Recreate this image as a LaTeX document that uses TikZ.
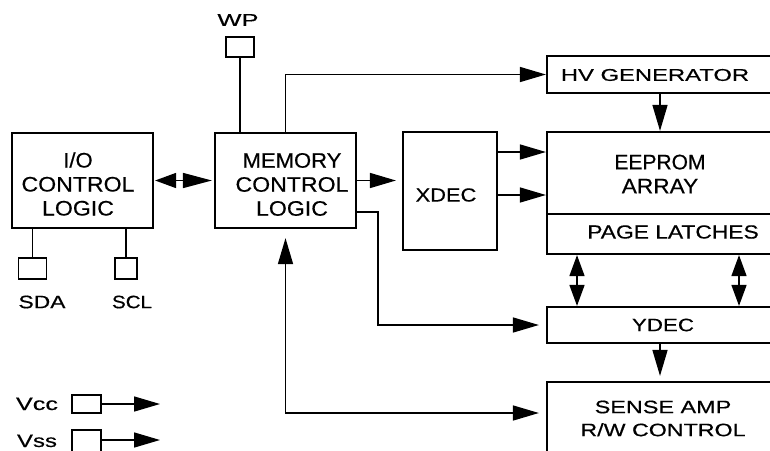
\documentclass[tikz,border=0pt]{standalone}
\usepackage{fontspec}
\setmainfont{Liberation Sans}[FakeBold=0.4]
\usepackage{graphicx}
\usetikzlibrary{arrows.meta}
\newcommand\sx[2]{\scalebox{#1}[1]{#2}}
\tikzset{
  box/.style={draw, line width=2.2pt, rectangle, inner sep=0pt},
  pin/.style={draw, line width=1.8pt, rectangle, inner sep=0pt},
  conn/.style={line width=1.5pt},
  arr/.style={conn, -{Triangle[length=26pt,width=15pt]}},
  darr/.style={conn, {Triangle[length=21pt,width=15pt]}-{Triangle[length=21pt,width=15pt]}},
  txt/.style={inner sep=0pt, align=center},
  fA/.style={font=\fontsize{21}{24}\selectfont},
  fB/.style={font=\fontsize{19}{23}\selectfont},
  fC/.style={font=\fontsize{18}{23}\selectfont},
  fD/.style={font=\fontsize{17}{20}\selectfont},
}
\begin{document}
\begin{tikzpicture}[x=1pt,y=-1pt]
\clip (0,0) rectangle (770,450);
\fill[white] (0,0) rectangle (770,450);
% boxes
\node[box, minimum width=141, minimum height=95] (io) at (82.5,180.5) {};
\node[box, minimum width=141, minimum height=95] (mem) at (285.5,180.5) {};
\node[box, minimum width=94, minimum height=118] (xdec) at (450,191) {};
\node[box, minimum width=243, minimum height=37] (hv) at (668.5,74.5) {};
\node[box, minimum width=243, minimum height=82] (ee) at (668.5,173) {};
\node[box, minimum width=243, minimum height=40] (pl) at (668.5,234) {};
\node[box, minimum width=243, minimum height=36] (ydec) at (668.5,325) {};
\node[box, minimum width=243, minimum height=88] (sense) at (668.5,426) {};
% pins
\node[pin, minimum width=28, minimum height=20] (wp) at (240,47) {};
\node[pin, minimum width=28, minimum height=21] (sda) at (32.5,268.5) {};
\node[pin, minimum width=22, minimum height=21] (scl) at (126,268.5) {};
\node[pin, minimum width=29, minimum height=18] (vcc) at (86.5,404) {};
\node[pin, minimum width=29, minimum height=30] (vss) at (86.5,445) {};
% texts
\node[txt, fA] (tio) at (78,184) {\sx{1.05}{I/O}\\\sx{1.1}{CONTROL}\\\sx{1.1}{LOGIC}};
\node[txt, fA] (tmem) at (292,184.5) {\sx{1.05}{MEMORY}\\\sx{1.1}{CONTROL}\\\sx{1.1}{LOGIC}};
\node[txt, fB] (txdec) at (446,195) {\sx{1.15}{XDEC}};
\node[txt, fD] (thv) at (655,75) {\sx{1.4}{HV GENERATOR}};
\node[txt, fA] (tee) at (660,174) {\sx{1.0}{EEPROM}\\\sx{1.08}{ARRAY}};
\node[txt, fB] (tpl) at (673,232) {\sx{1.2}{PAGE LATCHES}};
\node[txt, fC] (tydec) at (663,325) {\sx{1.24}{YDEC}};
\node[txt, fC] (tsense) at (663,418.5) {\sx{1.3}{SENSE AMP}\\\sx{1.29}{R/W CONTROL}};
\node[txt, fC] (tsda) at (42,302) {\sx{1.27}{SDA}};
\node[txt, fC] (tscl) at (132,302) {\sx{1.14}{SCL}};
\node[txt, fD] (twp) at (238,20) {\sx{1.5}{WP}};
\node[txt, fC, anchor=base] (tvcc) at (37,410) {\sx{1.4}{Vcc}};
\node[txt, fC, anchor=base] (tvss) at (37,447) {\sx{1.33}{Vss}};
% helper coordinates
\coordinate (xa) at (660,0);
\coordinate (y1) at (0,152);
\coordinate (y2) at (0,195);
\coordinate (yb) at (0,212);
\coordinate (xb) at (378,0);
\coordinate (xl1) at (577,0);
\coordinate (xl2) at (739,0);
\coordinate (sj) at (285.5,413);
\coordinate (vcce) at (160,404);
\coordinate (vsse) at (160,440);
% connectors
\draw[conn] (sda.north) -- (sda.north |- io.south);
\draw[conn] (scl.north) -- (scl.north |- io.south);
\draw[conn] (wp.south) -- (wp.south |- mem.north);
\draw[conn, {Triangle[length=21pt,width=15pt]}-{Triangle[length=29pt,width=15pt]}] ([xshift=1]io.east) -- ([xshift=-2]mem.west);
\draw[arr] (mem.north) |- (hv.west);
\draw[arr, shorten >=6pt] (mem.east) -- (xdec.west |- mem.east);
\draw[arr] (xdec.east |- y1) -- (ee.west |- y1);
\draw[arr] (xdec.east |- y2) -- (ee.west |- y2);
\draw[arr] (hv.south -| xa) -- (ee.north -| xa);
\draw[arr, shorten >=7pt] (mem.east |- yb) -| (xb |- ydec.west) -- (ydec.west);
\draw[darr] (pl.south -| xl1) -- (ydec.north -| xl1);
\draw[darr] (pl.south -| xl2) -- (ydec.north -| xl2);
\draw[arr, shorten >=5pt] (ydec.south -| xa) -- (sense.north -| xa);
\draw[conn, {Triangle[length=26pt,width=15pt]}-{Triangle[length=26pt,width=15pt]}, shorten <=9pt, shorten >=7pt] (mem.south) -- (sj) -- (sj -| sense.west);
\draw[arr] (vcc.east) -- (vcce);
\draw[arr] (vss.east |- vsse) -- (vsse);
\end{tikzpicture}
\end{document}
